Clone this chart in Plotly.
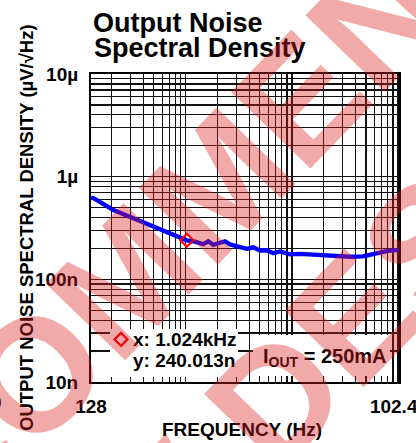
import plotly.graph_objects as go
import numpy as np

# ---- data ----
freq_hz = [128, 135, 208, 429, 662, 1024, 1222, 1463, 1633, 1820, 2104, 2345, 2614,
           3247, 3758, 4337, 5014, 5798, 6695, 7732, 9613, 11943, 17268, 24447,
           35340, 46900, 63550, 80620, 102400]
noise_nv = [625, 616, 474, 352, 291, 240, 233, 220, 235, 217, 227, 234, 219,
            208, 198, 205, 191, 192, 180, 187, 175, 177, 173, 167,
            166, 167, 179, 189, 194]

cursor_x = [1024]
cursor_y_nv = [240.013]

y_major_vals = [1e-8, 1e-7, 1e-6, 1e-5]
y_major_text = ["10n", "100n", "1µ", "10µ"]
x_major_vals = [128, 1000, 10000, 100000, 102400]
x_major_text = ["128", "", "", "", "102.4k"]

# ---- layout geometry helpers (pixels -> paper) ----
W, H = 416, 443
L, R, T, B = 91, 399, 74, 382


def px(x):
    return (x - L) / (R - L)


def py(y):
    return (B - y) / (B - T)


x_minor = [m * 10 ** e for e in (2, 3, 4) for m in range(2, 10)]
x_minor = [v for v in x_minor if 128 < v < 102400]
y_minor = [m * 10 ** e for e in (-8, -7, -6) for m in range(2, 10)]

fig = go.Figure()
fig.add_trace(go.Scatter(
    x=freq_hz, y=[v * 1e-9 for v in noise_nv], mode="lines",
    line=dict(color="#0000ff", width=4.3), showlegend=False, hoverinfo="skip"))
fig.add_trace(go.Scatter(
    x=cursor_x, y=[v * 1e-9 for v in cursor_y_nv], mode="markers",
    marker=dict(symbol="diamond-open", size=10, color="#ff0000",
                line=dict(width=2.2, color="#ff0000")),
    name="", showlegend=True, hoverinfo="skip"))

grid_col = "#111111"
eps = 2e-4
fig.update_xaxes(
    type="log", range=[np.log10(128) - eps, np.log10(102400) + eps],
    tickvals=x_major_vals, ticktext=x_major_text, ticks="",
    showgrid=True, gridcolor=grid_col, gridwidth=1.4,
    minor=dict(tickvals=x_minor, showgrid=True, gridcolor=grid_col, gridwidth=1.2, ticks=""),
    showline=True, linecolor="black", linewidth=2, mirror=True,
    tickfont=dict(family="Liberation Sans, Arial", size=19, color="black", weight="bold"),
    ticklabelstandoff=6, ticklabeloverflow="allow", automargin=False, zeroline=False)
fig.update_yaxes(
    type="log", range=[-8, -5],
    tickvals=y_major_vals, ticktext=y_major_text, ticks="",
    showgrid=True, gridcolor=grid_col, gridwidth=1.4,
    minor=dict(tickvals=y_minor, showgrid=True, gridcolor=grid_col, gridwidth=1.2, ticks=""),
    showline=True, linecolor="black", linewidth=2, mirror=True,
    tickfont=dict(family="Liberation Sans, Arial", size=19, color="black", weight="bold"),
    ticklabelstandoff=7, ticklabeloverflow="allow", automargin=False, zeroline=False)

bold = dict(family="Liberation Sans, Arial", color="black", weight="bold")

shapes = [
    dict(type="rect", xref="paper", yref="paper", layer="above",
         x0=px(110), x1=px(238), y0=py(377), y1=py(329),
         fillcolor="white", line=dict(width=0)),
    dict(type="rect", xref="paper", yref="paper", layer="above",
         x0=px(253), x1=px(390), y0=py(376), y1=py(335),
         fillcolor="white", line=dict(width=0)),
]

annotations = [
    dict(text="Output Noise", x=px(91), y=py(23), xanchor="left", yanchor="middle",
         font=dict(bold, size=27)),
    dict(text="Spectral Density", x=px(92), y=py(48.5), xanchor="left", yanchor="middle",
         font=dict(bold, size=27)),
    dict(text="FREQUENCY (Hz)", x=px(242), y=py(429), xanchor="center", yanchor="middle",
         font=dict(bold, size=19)),
    dict(text="OUTPUT NOISE SPECTRAL DENSITY (µV/√Hz)", x=px(26), y=py(228),
         xanchor="center", yanchor="middle", textangle=-90,
         font=dict(bold, size=18.5)),
    dict(text="x: 1.024kHz", x=px(131), y=py(339.5), xanchor="left", yanchor="middle",
         font=dict(bold, size=19)),
    dict(text="y: 240.013n", x=px(131), y=py(360.5), xanchor="left", yanchor="middle",
         font=dict(bold, size=19)),
    dict(text="I<sub>OUT</sub> = 250mA", x=px(261), y=py(357), xanchor="left", yanchor="middle",
         font=dict(bold, size=20)),
    dict(text="0", x=px(4), y=py(402), xanchor="right", yanchor="middle",
         font=dict(bold, size=19)),
    # watermark
    dict(text="NOT RECOMMENDED", x=px(71), y=py(336), xanchor="center", yanchor="middle",
         textangle=-46, font=dict(family="Liberation Sans, Arial", size=160,
                                   color="rgba(220,30,30,0.38)", weight="bold")),
    dict(text="FOR NEW DESIGNS", x=px(208), y=py(468), xanchor="center", yanchor="middle",
         textangle=-46, font=dict(family="Liberation Sans, Arial", size=160,
                                   color="rgba(220,30,30,0.38)", weight="bold")),
]
for a in annotations:
    a.update(xref="paper", yref="paper", showarrow=False)

fig.update_layout(
    width=W, height=H,
    margin=dict(l=L, r=W - R, t=T, b=H - B, pad=0),
    paper_bgcolor="white", plot_bgcolor="white",
    shapes=shapes, annotations=annotations,
    legend=dict(x=px(101), y=py(339.5), xanchor="left", yanchor="middle",
                bgcolor="rgba(0,0,0,0)", borderwidth=0, itemwidth=30,
                font=dict(bold, size=19)),
)

fig.write_html(
    "out.html",
    config={"displayModeBar": False, "staticPlot": True},
    post_script="document.body.style.margin='0';document.body.style.overflow='hidden';",
)
